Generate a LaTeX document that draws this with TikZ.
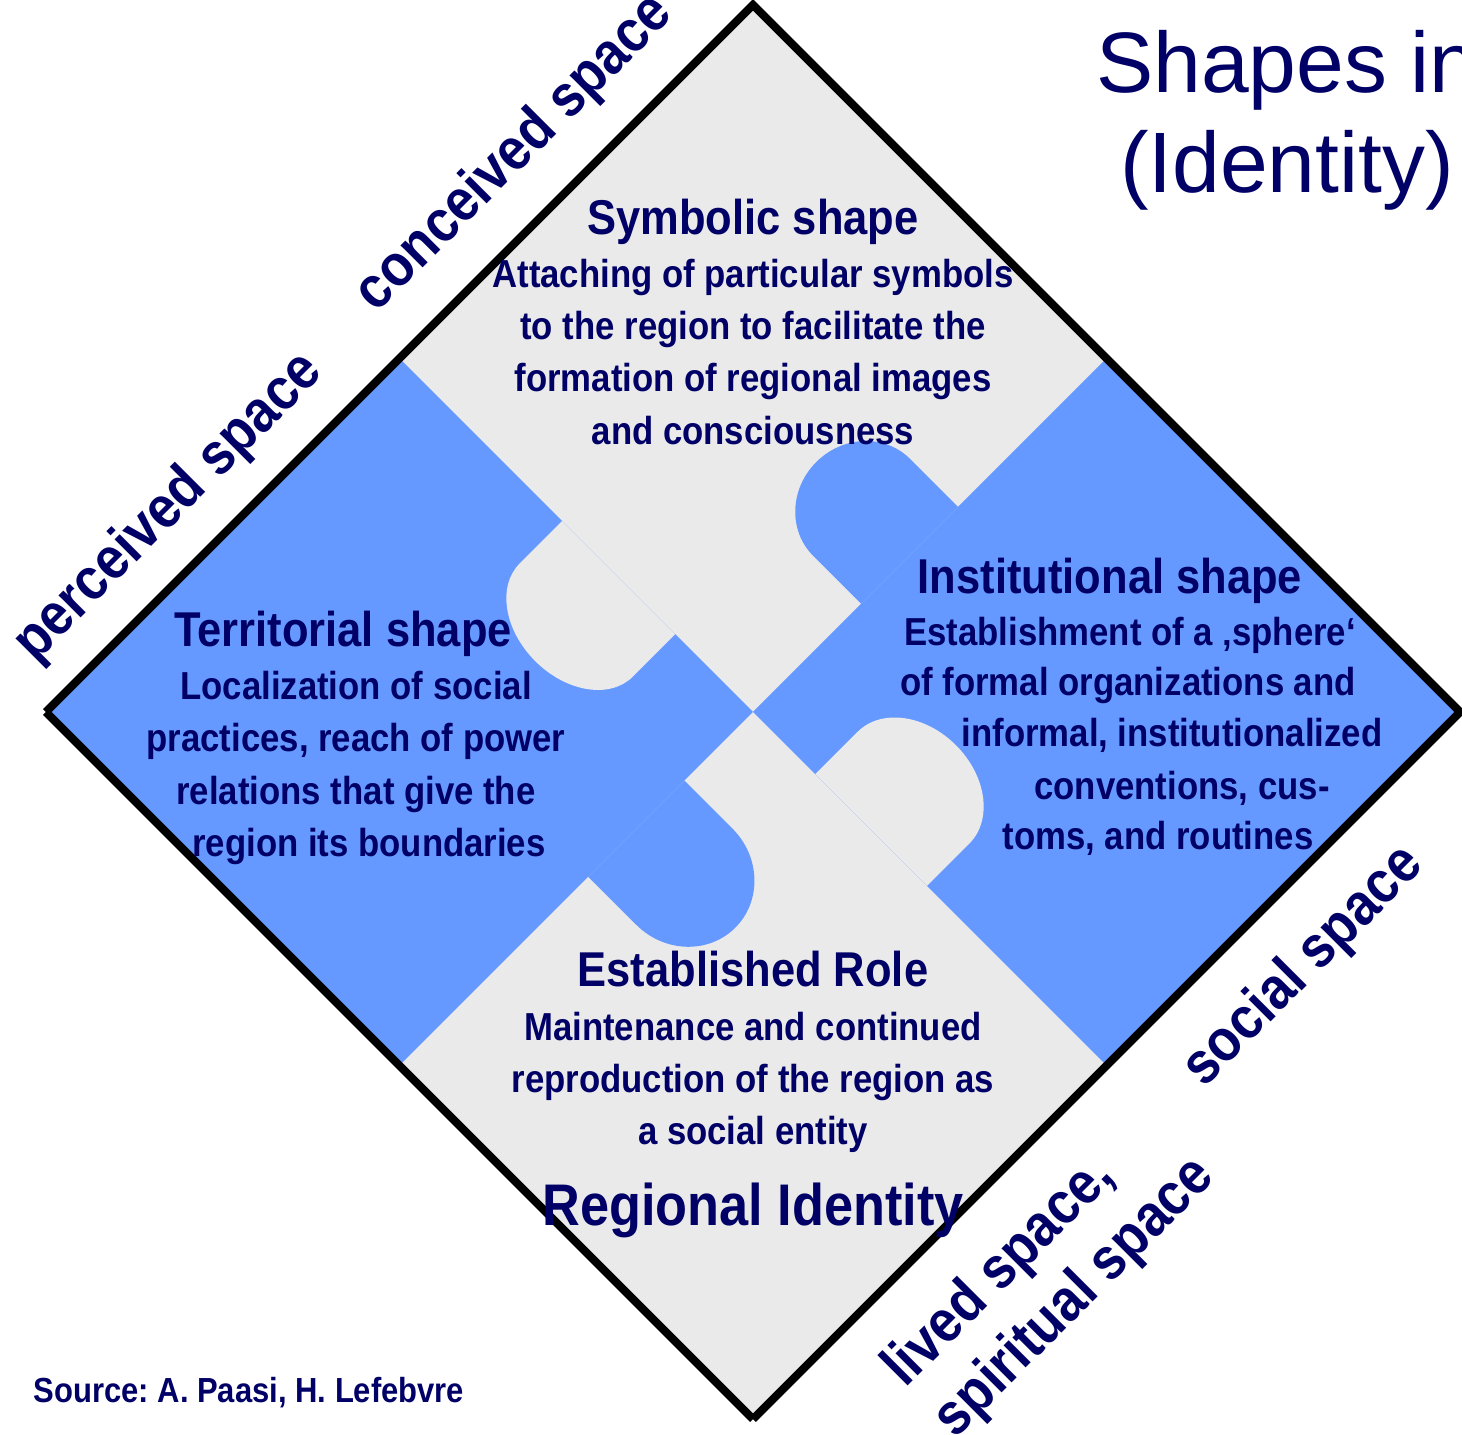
\documentclass[tikz,border=0pt]{standalone}
\usepackage{fontspec}
\usepackage{xcolor}
\usepackage{tikz}
\setmainfont{Liberation Sans}
\newfontfamily\narrowsans{Liberation Sans}[FakeStretch=0.89]
\definecolor{blueTile}{RGB}{102,153,255}
\definecolor{greyTile}{RGB}{234,234,234}
\definecolor{labelNavy}{RGB}{0,0,102}
\frenchspacing
\tikzset{
  tile heading/.style={font=\narrowsans\bfseries\fontsize{13.9}{16}\selectfont},
  tile text/.style={font=\narrowsans\bfseries\fontsize{11.1}{14.8}\selectfont, align=center},
  space label/.style={font=\narrowsans\bfseries\fontsize{16.8}{20.2}\selectfont, rotate=45, align=left}
}

\begin{document}
\begin{tikzpicture}[
  x=0.01cm, y=0.01cm,
  every node/.style={text=labelNavy, inner sep=0pt},
  frame/.style={draw=black, line width=2.3pt}
]
\useasboundingbox (0,0) rectangle (1462,1435);
\begin{scope}[shift={(753,723)}, rotate=45]
  \coordinate (T) at (500,500);
  \coordinate (R) at (500,-500);
  \coordinate (B) at (-500,-500);
  \coordinate (L) at (-500,500);
  \fill[greyTile] (L) -- (T) -- (R) -- (B) -- cycle;
  \fill[blueTile] (-500,0) rectangle (0,500);
  \fill[blueTile] (0,-500) rectangle (500,0);
  \foreach \ang/\from/\to/\h/\r/\col in {0/153/290/68/64/blueTile, 90/110/270/60/58/greyTile, 180/97/233/68/72/blueTile, 270/88/246/60/60/greyTile} {
    \fill[\col, rotate=\ang] (\from,0) -- (\from,\h)
      arc[start angle=180, end angle=0, x radius={(\to-\from)/2}, y radius=\r] -- (\to,0) -- cycle;
  }
  \draw[frame] (L) -- (T) -- (R) -- (B);
  \draw[frame] (B) -- (L);
\end{scope}

\node[tile heading, anchor=base] (symbolicHead) at (753,1200) {Symbolic shape};
\node[tile text] (symbolicText) at (753,1083) {Attaching of particular symbols\\to the region to facilitate the\\formation of regional images\\and consciousness};

\node[tile heading, anchor=base] (territorialHead) at (343,788) {Territorial shape};
\node[tile text] (territorialText) at (356,667) {Localization of social\\practices, reach of power\\relations that give the\\\hspace*{7.4pt}region its boundaries};

\node[tile heading, anchor=base] (institutionalHead) at (1110,841) {Institutional shape};
\foreach \line/\x/\y [count=\i] in {{Establishment of a ‚sphere‘}/1130/789, {of formal organizations and}/1128/739, {informal, institutionalized}/1172/688, {conventions, cus-}/1182/635, {toms, and routines}/1158/585} {
  \node[tile text, anchor=base] (institutionalLine\i) at (\x,\y) {\line};
}

\node[tile heading, anchor=base] (roleHead) at (753,448) {Established Role};
\node[tile text] (roleText) at (753,353) {Maintenance and continued\\reproduction of the region as\\a social entity};
\node[anchor=base, font=\narrowsans\bfseries\fontsize{16.7}{20}\selectfont] (regionalIdentity) at (753,209) {Regional Identity};

\node[space label] (conceived) at (515,1281) {conceived space};
\node[space label] (perceived) at (169,927) {perceived space};
\node[space label] (social) at (1304,468) {social space};
\node[space label] (lived) at (1050,162) {lived space,\\spiritual space};

\node[align=center, font=\fontsize{24.4}{28.5}\selectfont] (title) at (1287,1315) {Shapes in\\(Identity)};
\node[anchor=base west, font=\narrowsans\bfseries\fontsize{9.9}{12}\selectfont] (source) at (33,32) {Source: A. Paasi, H. Lefebvre};
\end{tikzpicture}
\end{document}
